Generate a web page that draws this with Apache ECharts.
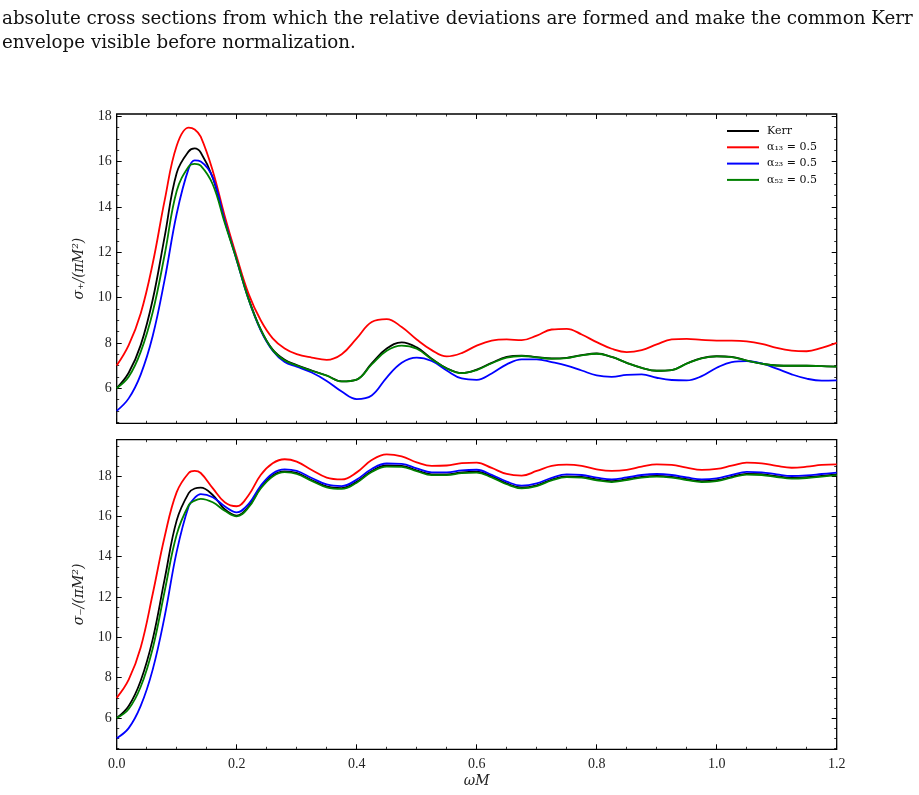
<!DOCTYPE html>
<html>
<head>
<meta charset="utf-8">
<script src="https://cdn.jsdelivr.net/npm/echarts@6/dist/echarts.min.js"></script>
<style>
  html, body { margin: 0; padding: 0; background: #fff; }
  #chart { width: 919px; height: 795px; }
</style>
</head>
<body>
<div id="chart"></div>
<script>
// omega M sample points shared by every curve
const omega = [0, 0.02, 0.04, 0.06, 0.08, 0.10, 0.12, 0.13, 0.14, 0.16, 0.18, 0.20, 0.22, 0.24, 0.26, 0.28, 0.30,
  0.325, 0.35, 0.375, 0.40, 0.425, 0.45, 0.475, 0.50, 0.525, 0.55, 0.575, 0.60,
  0.625, 0.65, 0.675, 0.70, 0.725, 0.75, 0.775, 0.80, 0.825, 0.85, 0.875, 0.90,
  0.925, 0.95, 0.975, 1.0, 1.025, 1.05, 1.075, 1.10, 1.125, 1.15, 1.175, 1.20]

// sigma_+ / (pi M^2)
const kerrPlus = [6.0, 6.68, 7.9, 9.9, 12.7, 15.5, 16.45, 16.58, 16.4, 15.3, 13.4, 11.7, 9.95, 8.6, 7.7, 7.25, 7.02,
  6.78, 6.56, 6.3, 6.38, 7.1, 7.75, 8.02, 7.8, 7.3, 6.88, 6.67, 6.82,
  7.12, 7.38, 7.44, 7.37, 7.31, 7.34, 7.46, 7.53, 7.38, 7.12, 6.9, 6.77,
  6.8, 7.09, 7.33, 7.41, 7.38, 7.22, 7.08, 7.0, 6.99, 6.99, 6.97, 6.95]
const a13Plus = [7.0, 7.9, 9.3, 11.5, 14.3, 16.7, 17.5, 17.42, 17.1, 15.6, 13.6, 11.8, 10.15, 9.0, 8.2, 7.75, 7.5,
  7.35, 7.25, 7.5, 8.2, 8.92, 9.05, 8.7, 8.15, 7.68, 7.4, 7.55, 7.88,
  8.1, 8.15, 8.12, 8.32, 8.59, 8.62, 8.37, 8.03, 7.74, 7.59, 7.68, 7.93,
  8.15, 8.18, 8.13, 8.1, 8.1, 8.07, 7.96, 7.78, 7.66, 7.63, 7.78, 8.0]
const a23Plus = [5.0, 5.55, 6.6, 8.3, 10.8, 13.7, 15.7, 16.05, 16.0, 15.3, 13.4, 11.65, 9.9, 8.55, 7.65, 7.15, 6.95,
  6.69, 6.32, 5.85, 5.52, 5.68, 6.47, 7.12, 7.35, 7.2, 6.78, 6.43, 6.37,
  6.65, 7.05, 7.27, 7.27, 7.15, 7.0, 6.78, 6.56, 6.5, 6.59, 6.61, 6.46,
  6.36, 6.34, 6.53, 6.9, 7.15, 7.19, 7.09, 6.86, 6.61, 6.42, 6.33, 6.34]
const a52Plus = [6.0, 6.5, 7.6, 9.35, 11.9, 14.7, 15.78, 15.9, 15.82, 15.0, 13.3, 11.65, 9.9, 8.58, 7.68, 7.22, 7.0,
  6.77, 6.55, 6.3, 6.38, 7.05, 7.65, 7.88, 7.74, 7.28, 6.87, 6.66, 6.8,
  7.1, 7.35, 7.42, 7.36, 7.3, 7.33, 7.45, 7.52, 7.38, 7.12, 6.9, 6.77,
  6.8, 7.08, 7.32, 7.4, 7.37, 7.22, 7.08, 7.0, 6.99, 6.99, 6.97, 6.95]

// sigma_- / (pi M^2)
const kerrMinus = [6.0, 6.6, 7.85, 9.9, 12.9, 15.8, 17.15, 17.38, 17.42, 17.06, 16.35, 16.04, 16.5, 17.43, 18.03, 18.23, 18.15,
  17.8, 17.48, 17.4, 17.71, 18.25, 18.52, 18.5, 18.28, 18.08, 18.08, 18.18, 18.21,
  17.98, 17.63, 17.43, 17.54, 17.82, 17.98, 17.96, 17.83, 17.74, 17.84, 17.96, 18.01,
  17.96, 17.84, 17.74, 17.79, 17.96, 18.11, 18.09, 17.99, 17.91, 17.94, 18.01, 18.08]
const a13Minus = [7.0, 7.9, 9.5, 12.15, 15.0, 17.2, 18.15, 18.25, 18.15, 17.4, 16.7, 16.5, 17.06, 18.05, 18.63, 18.83, 18.71,
  18.3, 17.92, 17.83, 18.18, 18.79, 19.07, 18.97, 18.68, 18.5, 18.52, 18.64, 18.66,
  18.4, 18.1, 18.02, 18.25, 18.5, 18.56, 18.5, 18.33, 18.25, 18.3, 18.46, 18.58,
  18.55, 18.41, 18.3, 18.35, 18.51, 18.66, 18.63, 18.5, 18.41, 18.46, 18.55, 18.58]
const a23Minus = [5.0, 5.5, 6.6, 8.4, 11.05, 14.25, 16.5, 16.92, 17.1, 16.95, 16.5, 16.2, 16.62, 17.52, 18.13, 18.33, 18.25,
  17.9, 17.58, 17.5, 17.82, 18.35, 18.62, 18.6, 18.38, 18.18, 18.18, 18.28, 18.31,
  18.06, 17.72, 17.52, 17.63, 17.91, 18.08, 18.05, 17.92, 17.83, 17.93, 18.05, 18.1,
  18.05, 17.93, 17.83, 17.88, 18.05, 18.2, 18.18, 18.08, 18.0, 18.03, 18.1, 18.17]
const a52Minus = [6.0, 6.45, 7.55, 9.45, 12.3, 15.1, 16.55, 16.78, 16.87, 16.7, 16.28, 16.0, 16.45, 17.38, 17.98, 18.19, 18.11,
  17.76, 17.44, 17.36, 17.67, 18.2, 18.47, 18.45, 18.24, 18.04, 18.04, 18.14, 18.17,
  17.93, 17.59, 17.39, 17.5, 17.78, 17.94, 17.92, 17.79, 17.7, 17.8, 17.92, 17.97,
  17.92, 17.8, 17.7, 17.75, 17.92, 18.07, 18.05, 17.95, 17.87, 17.9, 17.97, 18.04]

const seriesNames = ['Kerr', 'α\u2081\u2083 = 0.5', 'α\u2082\u2083 = 0.5', 'α\u2085\u2082 = 0.5']
const seriesColors = ['#000000', '#ff0000', '#0000ff', '#008000']
const yTicks = [6, 8, 10, 12, 14, 16, 18]

const serif = 'Liberation Serif'
const mathFont = 'DejaVu Serif'

const minorsBetween = (lo, hi) => {
  const out = []
  for (let v = Math.ceil(lo * 2) / 2; v <= hi; v += 0.5) out.push(v)
  return out
}

const makeXAxes = (g, showLabels) => {
  const base = {
    type: 'value', gridIndex: g, min: 0, max: 1.2, interval: 0.2,
    axisLine: { show: false },
    axisTick: { show: true, inside: true, length: 5, lineStyle: { color: '#000', width: 1 } },
    minorTick: { show: true, splitNumber: 4, length: 2.5, lineStyle: { color: '#000', width: 0.8 } },
    splitLine: { show: false },
    minorSplitLine: { show: false }
  }
  return [
    Object.assign({}, base, {
      position: 'bottom',
      axisLabel: {
        show: showLabels, margin: 8, color: '#222', fontFamily: serif, fontSize: 14,
        formatter: (v) => v.toFixed(1)
      },
      name: showLabels ? 'ωM' : '',
      nameLocation: 'middle',
      nameGap: 25,
      nameTextStyle: { fontFamily: mathFont, fontStyle: 'italic', fontSize: 14, color: '#222' }
    }),
    Object.assign({}, base, { position: 'top', axisLabel: { show: false } })
  ]
}

const makeYAxes = (g, min, max, label) => {
  const minors = minorsBetween(min, max)
  const mk = (pos, ticks, len, withLabel) => ({
    type: 'value', gridIndex: g, min: min, max: max, position: pos,
    axisLine: { show: false },
    axisTick: { show: true, inside: true, length: len, customValues: ticks, lineStyle: { color: '#000', width: len > 3 ? 1 : 0.8 } },
    axisLabel: withLabel
      ? { show: true, customValues: yTicks, margin: 5, color: '#222', fontFamily: serif, fontSize: 14 }
      : { show: false },
    splitLine: { show: false },
    name: withLabel ? label : '',
    nameLocation: 'middle',
    nameGap: 22,
    nameRotate: 90,
    nameTextStyle: { fontFamily: mathFont, fontStyle: 'italic', fontSize: 14, color: '#222' }
  })
  return [mk('left', yTicks, 5, true), mk('left', minors, 2.5, false), mk('right', yTicks, 5, false), mk('right', minors, 2.5, false)]
}

const zip = (vals) => omega.map((x, i) => [x, vals[i]])

const panelSeries = (xIdx, yIdx, sets) => sets.map((vals, i) => ({
  name: seriesNames[i],
  type: 'line',
  xAxisIndex: xIdx,
  yAxisIndex: yIdx,
  data: zip(vals),
  smooth: 0.4,
  symbol: 'none',
  showSymbol: false,
  lineStyle: { color: seriesColors[i], width: 1.8 },
  itemStyle: { color: seriesColors[i] },
  z: 2 + i
}))

const chart = echarts.init(document.getElementById('chart'), null, { renderer: 'canvas' })

const titleStyle = { fontFamily: mathFont, fontWeight: 'normal', fontSize: 18.3, color: '#111' }

const option = {
  animation: false,
  backgroundColor: '#fff',
  title: [
    {
      text: 'absolute cross sections from which the relative deviations are formed and make the common Kerr',
      left: 2, top: 10, padding: 0,
      textStyle: titleStyle
    },
    {
      text: 'envelope visible before normalization.',
      left: 2, top: 34, padding: 0,
      textStyle: titleStyle
    }
  ],
  legend: {
    data: seriesNames.map((n) => ({ name: n, icon: 'rect' })),
    orient: 'vertical',
    left: 727,
    top: 125,
    itemWidth: 32,
    itemHeight: 2,
    itemGap: 4.3,
    padding: 0,
    textStyle: { fontFamily: mathFont, fontSize: 11, lineHeight: 12, color: '#111', padding: [0, 0, 0, 3] }
  },
  grid: [
    { left: 116.7, top: 114, width: 720, height: 309.3, show: true, borderColor: '#000', borderWidth: 1.3, backgroundColor: 'transparent' },
    { left: 116.7, top: 439.7, width: 720, height: 309.6, show: true, borderColor: '#000', borderWidth: 1.3, backgroundColor: 'transparent' }
  ],
  xAxis: [...makeXAxes(0, false), ...makeXAxes(1, true)],
  yAxis: [
    ...makeYAxes(0, 4.45, 18.1, 'σ\u208A/(πM\u00B2)'),
    ...makeYAxes(1, 4.45, 19.8, 'σ\u208B/(πM\u00B2)')
  ],
  series: [
    ...panelSeries(0, 0, [kerrPlus, a13Plus, a23Plus, a52Plus]),
    ...panelSeries(2, 4, [kerrMinus, a13Minus, a23Minus, a52Minus])
  ]
}

chart.setOption(option)
</script>
</body>
</html>
